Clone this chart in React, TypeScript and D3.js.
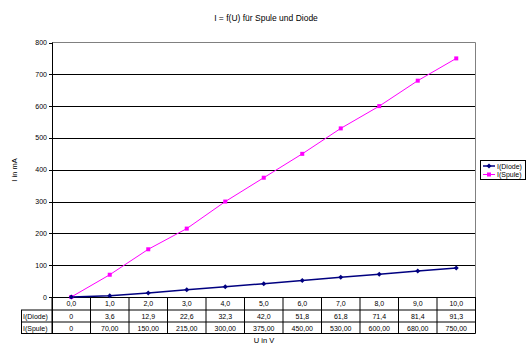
import React from "react";
import * as d3 from "d3";

const categories = ["0,0", "1,0", "2,0", "3,0", "4,0", "5,0", "6,0", "7,0", "8,0", "9,0", "10,0"];
const diode = [0, 3.6, 12.9, 22.6, 32.3, 42.0, 51.8, 61.8, 71.4, 81.4, 91.3];
const spule = [0, 70, 150, 215, 300, 375, 450, 530, 600, 680, 750];
const diodeLabels = ["0", "3,6", "12,9", "22,6", "32,3", "42,0", "51,8", "61,8", "71,4", "81,4", "91,3"];
const spuleLabels = ["0", "70,00", "150,00", "215,00", "300,00", "375,00", "450,00", "530,00", "600,00", "680,00", "750,00"];
const yTicks = [0, 100, 200, 300, 400, 500, 600, 700, 800];
const seriesNames = ["I(Diode)", "I(Spule)"];

const W = 532, H = 354;
const L = 52, R = 475.5, T = 42.5, B = 297;
const font = "Arial, 'Liberation Sans', sans-serif";

export default function App() {
  const x = d3.scaleBand<string>().domain(categories).range([L, R]).padding(0);
  const y = d3.scaleLinear().domain([0, 800]).range([B, T]);
  const cx = (i: number) => (x(categories[i]) as number) + x.bandwidth() / 2;
  const line = d3.line<number>().x((_, i) => cx(i)).y((d) => y(d));
  const rows = [B, 310, 322, 333.5];
  const labelLeft = 21;
  const bounds = categories.map((c) => x(c) as number).concat([R]);

  return (
    <svg width={W} height={H} style={{ position: "absolute", left: 0, top: 0, background: "#fff" }} fontFamily={font}>
      <rect x={0} y={0} width={W} height={H} fill="#fff" />
      <text x={266} y={21} fontSize={8.5} textAnchor="middle" fill="#000">I = f(U) für Spule und Diode</text>
      {/* gridlines */}
      {yTicks.filter((t) => t > 0 && t < 800).map((t) => (
        <line key={t} x1={L} x2={R} y1={Math.round(y(t)) + 0.5} y2={Math.round(y(t)) + 0.5} stroke="#000" strokeWidth={1} />
      ))}
      {/* plot border top/right gray */}
      <line x1={L} x2={R} y1={T} y2={T} stroke="#808080" strokeWidth={1} />
      <line x1={R} x2={R} y1={T} y2={B} stroke="#808080" strokeWidth={1} />
      {/* y axis */}
      <line x1={L + 0.5} x2={L + 0.5} y1={T} y2={rows[3]} stroke="#000" strokeWidth={1} />
      {yTicks.map((t) => (
        <g key={t}>
          <line x1={L - 3} x2={L} y1={Math.round(y(t)) + 0.5} y2={Math.round(y(t)) + 0.5} stroke="#000" />
          <text x={L - 5} y={y(t) + 2.5} fontSize={7} textAnchor="end" fill="#000">{t}</text>
        </g>
      ))}
      <text transform={`translate(17,170) rotate(-90)`} fontSize={7.5} textAnchor="middle" fill="#000">I in mA</text>
      {/* table */}
      <line x1={L} x2={R} y1={B + 0.5} y2={B + 0.5} stroke="#000" />
      {rows.slice(1).map((r, i) => (
        <line key={i} x1={labelLeft} x2={R} y1={r} y2={r} stroke="#000" />
      ))}
      <line x1={labelLeft + 0.5} x2={labelLeft + 0.5} y1={rows[1]} y2={rows[3]} stroke="#000" />
      {bounds.map((bx, i) => (
        <line key={i} x1={bx} x2={bx} y1={B} y2={rows[3]} stroke="#000" />
      ))}
      {categories.map((c, i) => (
        <g key={c}>
          <text x={cx(i)} y={306} fontSize={7} textAnchor="middle" fill="#000">{c}</text>
          <text x={cx(i)} y={319} fontSize={7} textAnchor="middle" fill="#000">{diodeLabels[i]}</text>
          <text x={cx(i)} y={330.5} fontSize={7} textAnchor="middle" fill="#000">{spuleLabels[i]}</text>
        </g>
      ))}
      <text x={23} y={319} fontSize={7} fill="#000">{seriesNames[0]}</text>
      <text x={23} y={330.5} fontSize={7} fill="#000">{seriesNames[1]}</text>
      <text x={264} y={343} fontSize={7.5} textAnchor="middle" fill="#000">U in V</text>
      {/* series */}
      <path d={line(spule) as string} fill="none" stroke="#FF00FF" strokeWidth={1} />
      <path d={line(diode) as string} fill="none" stroke="#000080" strokeWidth={1.5} />
      {spule.map((v, i) => (
        <rect key={i} x={cx(i) - 2} y={y(v) - 2} width={4} height={4} fill="#FF00FF" />
      ))}
      {diode.map((v, i) => (
        <path key={i} d={`M${cx(i) - 2.5},${y(v)}L${cx(i)},${y(v) - 2.5}L${cx(i) + 2.5},${y(v)}L${cx(i)},${y(v) + 2.5}Z`} fill="#000080" />
      ))}
      {/* legend */}
      <rect x={480.5} y={160.5} width={45} height={19} fill="#fff" stroke="#000" strokeWidth={1} />
      <line x1={483} x2={495} y1={166} y2={166} stroke="#000080" strokeWidth={1.5} />
      <path d="M486.5,166L489,163.5L491.5,166L489,168.5Z" fill="#000080" />
      <text x={497} y={168.5} fontSize={7} fill="#000">{seriesNames[0]}</text>
      <line x1={483} x2={495} y1={174.5} y2={174.5} stroke="#FF00FF" strokeWidth={1} />
      <rect x={487} y={172.5} width={4} height={4} fill="#FF00FF" />
      <text x={497} y={177} fontSize={7} fill="#000">{seriesNames[1]}</text>
    </svg>
  );
}
